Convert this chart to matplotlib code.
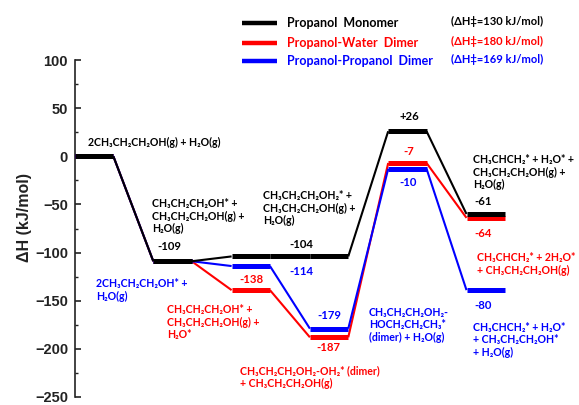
import matplotlib
matplotlib.use('Agg')
import matplotlib.pyplot as plt
from matplotlib.lines import Line2D
from matplotlib.ticker import MultipleLocator

W, H, DPI = 579, 405, 100

# ---------------- data ----------------
states = [0, 1, 2, 3, 4, 5]
# level heights as drawn in the figure (kJ/mol)
monomer_dH = [0, -109, -104, -104, 26, -60]
water_dH = [0, -109, -139, -188, -7, -64]
propanol_dH = [0, -109, -114, -179, -13, -139]
# printed values
monomer_text = [None, '-109', '-104', None, '+26', '-61']
water_text = [None, None, '-138', '-187', '-7', '-64']
propanol_text = [None, None, '-114', '-179', '-10', '-80']
series_names = ['Propanol  Monomer', 'Propanol-Water  Dimer', 'Propanol-Propanol  Dimer']
barrier_text = ['(ΔH‡=130 kJ/mol)', '(ΔH‡=180 kJ/mol)', '(ΔH‡=169 kJ/mol)']
yticks = [100, 50, 0, -50, -100, -150, -200, -250]

black_species = [
    '2CH₃CH₂CH₂OH(g) + H₂O(g)',
    'CH₃CH₂CH₂OH* +\nCH₃CH₂CH₂OH(g) +\nH₂O(g)',
    'CH₃CH₂CH₂OH₂* +\nCH₃CH₂CH₂OH(g) +\nH₂O(g)',
    'CH₃CHCH₂* + H₂O* +\nCH₃CH₂CH₂OH(g) +\nH₂O(g)',
]
red_species = [
    'CH₃CH₂CH₂OH* +\nCH₃CH₂CH₂OH(g) +\nH₂O*',
    'CH₃CH₂CH₂OH₂-OH₂* (dimer)\n+ CH₃CH₂CH₂OH(g)',
    'CH₃CHCH₂* + 2H₂O*\n+ CH₃CH₂CH₂OH(g)',
]
blue_species = [
    '2CH₃CH₂CH₂OH* +\nH₂O(g)',
    'CH₃CH₂CH₂OH₂-\nHOCH₂CH₂CH₃*\n(dimer) + H₂O(g)',
    'CH₃CHCH₂* + H₂O*\n+ CH₃CH₂CH₂OH*\n+ H₂O(g)',
]

BLACK, RED, BLUE = '#000000', '#FF0000', '#0000FF'
LAB_FONT = ['Lato', 'DejaVu Sans']
AX_FONT = ['Liberation Sans', 'DejaVu Sans']

fig = plt.figure(figsize=(W / DPI, H / DPI), dpi=DPI)
ax = fig.add_axes([75 / W, (H - 397) / H, (560 - 75) / W, 337 / H])
ax.set_ylim(-250, 100)
ax.set_xlim(0, 485 / 78.3)

LEVEL_W = 0.49


def draw(xs, ys, color, z):
    for i, (x, y) in enumerate(zip(xs, ys)):
        ax.plot([x, x + LEVEL_W], [y, y], color=color, lw=3.6,
                solid_capstyle='butt', zorder=z + 1)
        if i + 1 < len(xs):
            y2 = ys[i + 1]
            lw = 3.6 if y2 == y else 1.5
            ax.plot([x + LEVEL_W, xs[i + 1]], [y, y2], color=color, lw=lw,
                    zorder=z, solid_capstyle='butt')


draw(states, water_dH, RED, 2)
draw(states, propanol_dH, BLUE, 4)
draw(states, monomer_dH, BLACK, 6)


def vlabel(i, ys, texts, color, dx, dy):
    ax.annotate(texts[i], xy=(states[i] + LEVEL_W / 2, ys[i]), xytext=(dx, dy),
                textcoords='offset pixels', ha='center', va='center',
                color=color, fontsize=8.2, fontweight='bold', family=LAB_FONT)


vlabel(1, monomer_dH, monomer_text, BLACK, -3, 15)
vlabel(2, monomer_dH, monomer_text, BLACK, 51, 12)
vlabel(4, monomer_dH, monomer_text, BLACK, 2, 15)
vlabel(5, monomer_dH, monomer_text, BLACK, -3, 12.5)
vlabel(2, water_dH, water_text, RED, 1, 11)
vlabel(3, water_dH, water_text, RED, -1, -10)
vlabel(4, water_dH, water_text, RED, 1, 12)
vlabel(5, water_dH, water_text, RED, -3, -15.5)
vlabel(2, propanol_dH, propanol_text, BLUE, 51, -5)
vlabel(3, propanol_dH, propanol_text, BLUE, 0, 13.5)
vlabel(4, propanol_dH, propanol_text, BLUE, 1, -14)
vlabel(5, propanol_dH, propanol_text, BLUE, -3, -15)


def ftext(xp, yp, s, color, **kw):
    fig.text(xp / W, 1 - yp / H, s, color=color, fontsize=7.6, fontweight='bold',
             family=LAB_FONT, ha='left', va='center', linespacing=1.15, **kw)


ftext(88, 142, black_species[0], BLACK)
ftext(152, 216, black_species[1], BLACK)
ftext(263, 208, black_species[2], BLACK)
ftext(473, 172, black_species[3], BLACK)
ftext(167, 322, red_species[0], RED)
ftext(240, 377, red_species[1], RED)
ftext(477, 264, red_species[2], RED)
ftext(96, 290, blue_species[0], BLUE)
ftext(369, 325, blue_species[1], BLUE)
ftext(473, 340, blue_species[2], BLUE)

# legend
for yp, name, bt, c in zip([23, 43, 61], series_names, barrier_text, [BLACK, RED, BLUE]):
    fig.add_artist(Line2D([242 / W, 277 / W], [1 - yp / H, 1 - yp / H], color=c, lw=3.2,
                          solid_capstyle='butt'))
    fig.text(287 / W, 1 - yp / H, name, color=c, fontsize=9, fontweight='bold',
             family=LAB_FONT, ha='left', va='center')
    fig.text(451 / W, 1 - (yp - 2) / H, bt, color=c, fontsize=8, fontweight='bold',
             family=LAB_FONT, ha='left', va='center')

# axes styling
for sp in ['top', 'right', 'bottom']:
    ax.spines[sp].set_visible(False)
ax.spines['left'].set_linewidth(1.2)
ax.spines['left'].set_color('#222222')
ax.set_xticks([])
ax.set_yticks(yticks)
ax.yaxis.set_minor_locator(MultipleLocator(25))
ax.tick_params(axis='y', which='major', direction='in', length=4, width=1.2, pad=5,
               color='#222222')
ax.tick_params(axis='y', which='minor', direction='in', length=2.5, width=1.0,
               color='#222222')
for lab in ax.get_yticklabels():
    lab.set_family(AX_FONT)
    lab.set_fontweight('bold')
    lab.set_fontsize(10.5)
    lab.set_color('#222222')

fig.text(25 / W, 1 - 217 / H, 'ΔH (kJ/mol)', rotation=90, ha='center', va='center',
         fontsize=11.5, fontweight='bold', family=AX_FONT, color='#222222')

fig.savefig('out.png', dpi=DPI)
